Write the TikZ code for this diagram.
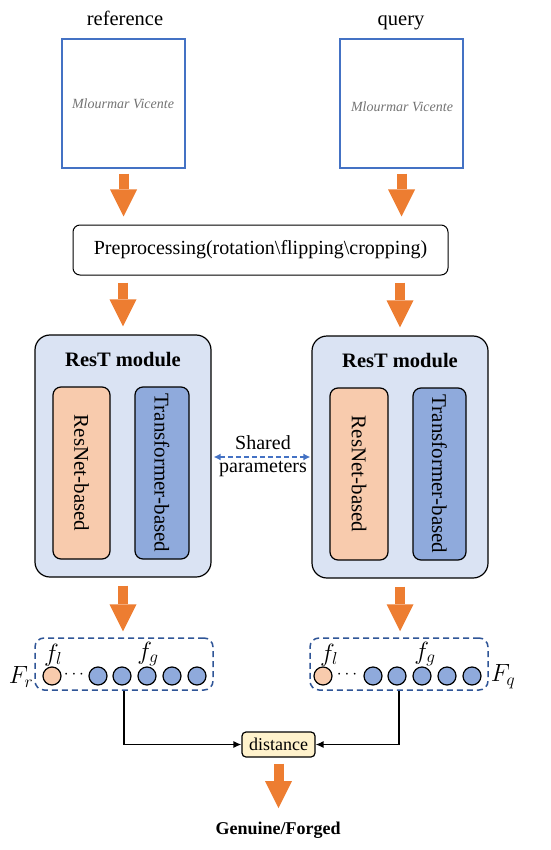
\documentclass[tikz,border=0pt]{standalone}
\usepackage{fontspec}
\setmainfont{Liberation Serif}
\usetikzlibrary{arrows.meta,calc}
\definecolor{orangeA}{HTML}{ED7D31}
\definecolor{imgblue}{HTML}{4472C4}
\definecolor{modfill}{HTML}{DAE3F3}
\definecolor{resfill}{HTML}{F8CBAD}
\definecolor{trfill}{HTML}{8FAADC}
\definecolor{featblue}{HTML}{2F5597}
\definecolor{distfill}{HTML}{FFF2CC}
\tikzset{
  imgbox/.style={draw=imgblue, line width=1.3pt, minimum width=123pt, minimum height=129pt, inner sep=0pt},
  sig/.style={text=black!55, font=\fontsize{14}{14}\selectfont\itshape},
  toplab/.style={anchor=base, font=\fontsize{20.5}{20.5}\selectfont},
  prebox/.style={draw, line width=1pt, rounded corners=7pt, minimum width=375pt, minimum height=50pt, font=\fontsize{20}{20}\selectfont},
  modbox/.style={draw, line width=1.2pt, fill=modfill, rounded corners=15pt, minimum width=176pt, minimum height=242pt},
  modlab/.style={font=\fontsize{20.5}{20.5}\selectfont\bfseries},
  inbox/.style={draw, line width=1.2pt, rounded corners=8pt, rotate=-90, minimum width=172pt, font=\fontsize{21}{21}\selectfont, inner sep=0pt},
  featbox/.style={draw=featblue, line width=1.5pt, dash pattern=on 6pt off 4pt, rounded corners=9pt, minimum width=178pt, minimum height=52pt},
  ball/.style={circle, draw, line width=1.2pt, fill=trfill, minimum size=18pt, inner sep=0pt},
  oball/.style={ball, fill=resfill},
  mlab/.style={font=\fontsize{23}{23}\selectfont},
  dotlab/.style={font=\fontsize{19}{19}\selectfont},
  bigarrow/.style={draw=orangeA, line width=10pt, -{Triangle[length=27pt,width=27pt,line width=0pt]}},
  conn/.style={line width=1.3pt, -{Latex[length=8pt,width=7pt]}},
  shared/.style={draw=imgblue, line width=1.5pt, dash pattern=on 5pt off 3pt, {Latex[length=7pt,width=7pt]}-{Latex[length=7pt,width=7pt]}},
  txt/.style={font=\fontsize{20}{20}\selectfont}
}
\begin{document}
\begin{tikzpicture}[x=1pt,y=-1pt]
\useasboundingbox (0,0) rectangle (550,850);
% inputs
\node[toplab] (reflab) at (125,26) {reference};
\node[toplab] (qlab) at (401,26) {query};
\node[imgbox] (refimg) at (123.5,103.5) {};
\node[imgbox] (qimg) at (401.5,103.5) {};
\node[sig] (refsig) at (123,104) {Mlourmar Vicente};
\node[sig] (qsig) at (402,107) {Mlourmar Vicente};
% preprocessing
\node[prebox] (pre) at (260.5,250) {Preprocessing(rotation\textbackslash flipping\textbackslash cropping)};
\draw[bigarrow, shorten <=5pt, shorten >=8pt] (refimg.south) -- (refimg.south |- pre.north);
\draw[bigarrow, shorten <=5pt, shorten >=8pt] (qimg.south) -- (qimg.south |- pre.north);
% modules
\node[modbox] (restL) at (123,456) {};
\node[modbox] (restR) at (400,457) {};
\node[modlab] (restLlab) at (123,360) {ResT module};
\node[modlab] (restRlab) at (400,361) {ResT module};
\node[inbox, fill=resfill, minimum height=57pt] (resnetL) at (81.5,473) {ResNet-based};
\node[inbox, fill=trfill, minimum height=54pt] (transL) at (162,473) {Transformer-based};
\node[inbox, fill=resfill, minimum height=58pt] (resnetR) at (359,474) {ResNet-based};
\node[inbox, fill=trfill, minimum height=53pt] (transR) at (439.5,474) {Transformer-based};
\draw[bigarrow, shorten <=7pt, shorten >=8pt] (pre.south -| restL.north) -- (restL.north);
\draw[bigarrow, shorten <=7pt, shorten >=8pt] (pre.south -| restR.north) -- (restR.north);
% shared parameters
\node[txt] (sharedtop) at (263,443) {Shared};
\node[txt] (sharedbot) at (263,469) {parameters};
\draw[shared] ($(restL.east)+(2,1)$) -- ($(restL.east -| restR.west)+(-1,1)$);
% features
\node[featbox] (featL) at (124,664) {};
\node[featbox] (featR) at (399,664) {};
\draw[bigarrow, shorten <=8pt, shorten >=6pt] (restL.south) -- (restL.south |- featL.north);
\draw[bigarrow, shorten <=8pt, shorten >=6pt] (restR.south) -- (restR.south |- featR.north);
\node[oball] (l0) at (52,676) {};
\node[dotlab] (ldots) at (74,675) {$\cdots$};
\node[ball] (l1) at (98,676) {};
\node[ball] (l2) at (122,676) {};
\node[ball] (l3) at (147,676) {};
\node[ball] (l4) at (172,676) {};
\node[ball] (l5) at (197,676) {};
\node[oball] (r0) at (323,676) {};
\node[dotlab] (rdots) at (347,675) {$\cdots$};
\node[ball] (r1) at (373,676) {};
\node[ball] (r2) at (397,676) {};
\node[ball] (r3) at (422,676) {};
\node[ball] (r4) at (447,676) {};
\node[ball] (r5) at (472,676) {};
\node[mlab] (lfl) at (53,655) {$f_l$};
\node[mlab] (lfg) at (148,654) {$f_g$};
\node[mlab] (rfl) at (329,655) {$f_l$};
\node[mlab] (rfg) at (425,654) {$f_g$};
\node[mlab] (Fr) at (21,677) {$F_r$};
\node[mlab] (Fq) at (503,677) {$F_q$};
% distance
\node[draw, line width=1.2pt, fill=distfill, rounded corners=4pt, minimum width=73pt, minimum height=25pt, inner sep=0pt, font=\fontsize{18}{18}\selectfont] (dist) at (278.5,744.5) {distance};
\draw[conn] (featL.south) |- (dist.west);
\draw[conn] (featR.south) |- (dist.east);
\node[font=\fontsize{18}{18}\selectfont\bfseries] (result) at (278,830) {Genuine/Forged};
\coordinate (resTop) at (278.5,808);
\draw[bigarrow, shorten <=6pt] (dist.south) -- (resTop);
\end{tikzpicture}
\end{document}
